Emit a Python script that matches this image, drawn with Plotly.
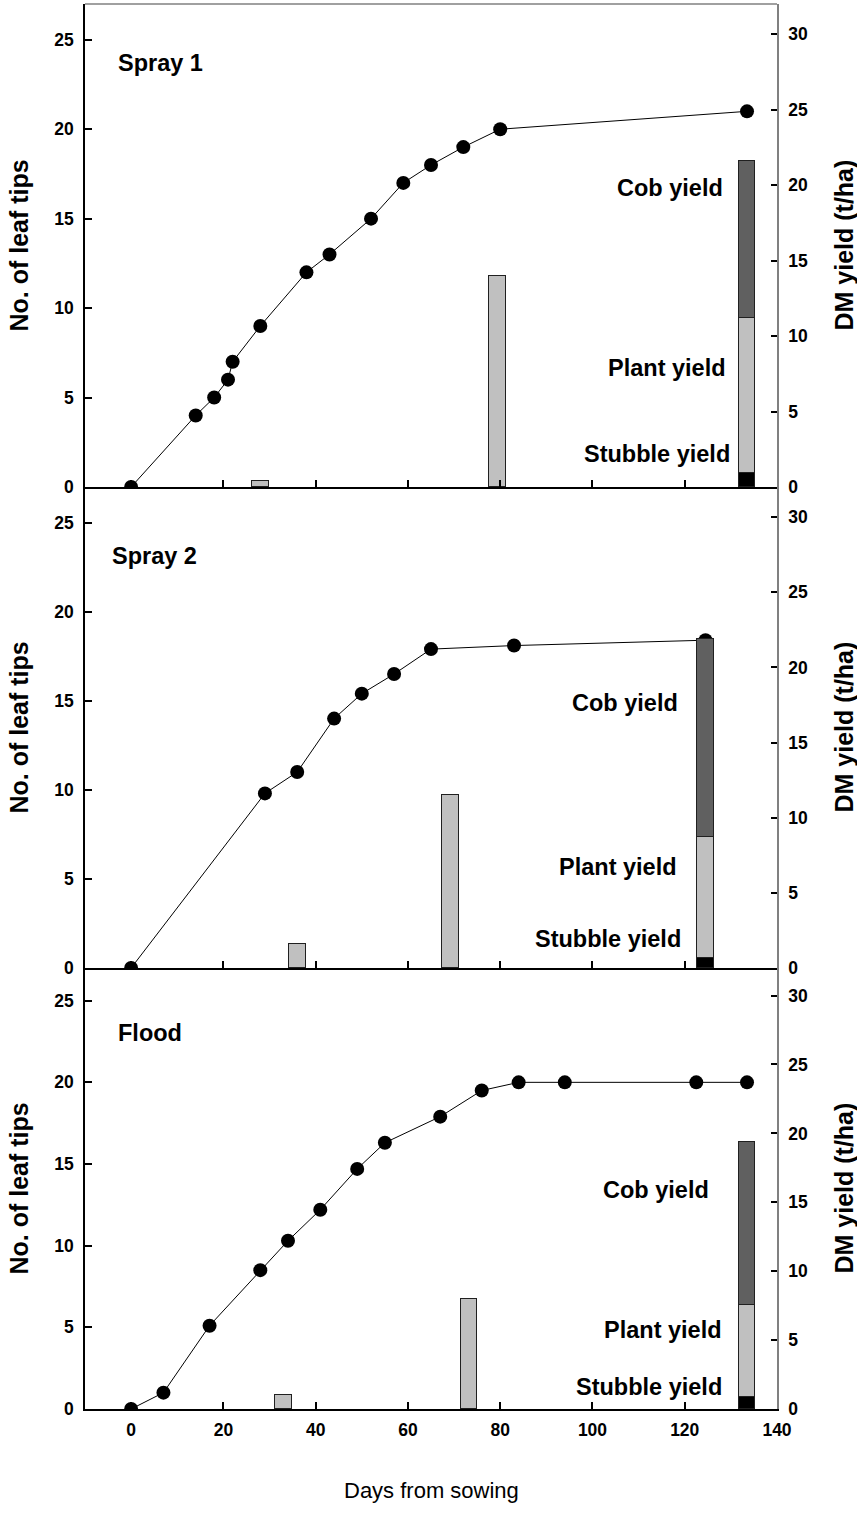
import plotly.graph_objects as go

# ---------------- data ----------------
panel_names = ["Spray 1", "Spray 2", "Flood"]

spray1_days = [0, 14, 18, 21, 22, 28, 38, 43, 52, 59, 65, 72, 80, 133.5]
spray1_tips = [0, 4, 5, 6, 7, 9, 12, 13, 15, 17, 18, 19, 20, 21]
spray1_bar_days = [28, 79.4]
spray1_bar_dm = [0.4, 14.0]
spray1_harvest_day = [133.5]
spray1_stubble = [0.95]
spray1_plant = [10.25]
spray1_cob = [10.4]

spray2_days = [0, 29, 36, 44, 50, 57, 65, 83, 124.5]
spray2_tips = [0, 9.8, 11, 14, 15.4, 16.5, 17.9, 18.1, 18.4]
spray2_bar_days = [36, 69.2]
spray2_bar_dm = [1.6, 11.5]
spray2_harvest_day = [124.5]
spray2_stubble = [0.67]
spray2_plant = [8.05]
spray2_cob = [13.2]

flood_days = [0, 7, 17, 28, 34, 41, 49, 55, 67, 76, 84, 94, 122.5, 133.5]
flood_tips = [0, 1, 5.1, 8.5, 10.3, 12.2, 14.7, 16.3, 17.9, 19.5, 20, 20, 20, 20]
flood_bar_days = [33, 73.2]
flood_bar_dm = [1.05, 7.95]
flood_harvest_day = [133.5]
flood_stubble = [0.89]
flood_plant = [6.65]
flood_cob = [11.83]

x_ticks = [0, 20, 40, 60, 80, 100, 120, 140]
left_ticks = [0, 5, 10, 15, 20, 25]
right_ticks = [0, 5, 10, 15, 20, 25, 30]

# ---------------- styling / layout ----------------
FONT = "Liberation Sans, Arial, sans-serif"
LIGHT = "#c0c0c0"
DARK = "#606060"
W, H = 857, 1532
ML, MR, MT, MB = 85, 80, 4, 123
plot_h = H - MT - MB
bounds_px = [(4, 487), (487, 968), (968, 1409)]
domains = [[(1409 - b) / plot_h, (1409 - t) / plot_h] for t, b in bounds_px]

TICK_SIZE = 17.5
LABEL_SIZE = 23.5
TITLE_SIZE = 25

panels = [
    dict(days=spray1_days, tips=spray1_tips, bd=spray1_bar_days, bv=spray1_bar_dm,
         hd=spray1_harvest_day, st=spray1_stubble, pl=spray1_plant, cb=spray1_cob,
         label_pos=(-3.2, 23.7),
         yl=[(128.8, 19.8), (129.3, 7.9), (130.2, 2.2)]),
    dict(days=spray2_days, tips=spray2_tips, bd=spray2_bar_days, bv=spray2_bar_dm,
         hd=spray2_harvest_day, st=spray2_stubble, pl=spray2_plant, cb=spray2_cob,
         label_pos=(-4.5, 23.1),
         yl=[(119.0, 17.6), (118.8, 6.7), (119.7, 1.95)]),
    dict(days=flood_days, tips=flood_tips, bd=flood_bar_days, bv=flood_bar_dm,
         hd=flood_harvest_day, st=flood_stubble, pl=flood_plant, cb=flood_cob,
         label_pos=(-3.2, 23.0),
         yl=[(125.8, 15.9), (128.6, 5.7), (128.6, 1.6)]),
]

fig = go.Figure()
annotations = []
bar_w = 3.6
bar_line = dict(color="#202020", width=1)
tickfont = dict(family=FONT, size=TICK_SIZE, color="black", weight="bold")

for i, p in enumerate(panels):
    xa = "x" if i == 0 else f"x{i+1}"
    yl = "y" if i == 0 else f"y{2*i+1}"
    yr = f"y{2*i+2}"
    fig.add_trace(go.Scatter(x=p["days"], y=p["tips"], mode="lines+markers",
                             line=dict(color="black", width=1),
                             marker=dict(color="black", size=14),
                             xaxis=xa, yaxis=yl, showlegend=False))
    fig.add_trace(go.Bar(x=p["bd"], y=p["bv"], width=bar_w, marker=dict(color=LIGHT, line=bar_line),
                         xaxis=xa, yaxis=yr, showlegend=False))
    fig.add_trace(go.Bar(x=p["hd"], y=p["st"], width=bar_w, marker=dict(color="black", line=bar_line),
                         xaxis=xa, yaxis=yr, showlegend=False))
    fig.add_trace(go.Bar(x=p["hd"], y=p["pl"], width=bar_w, marker=dict(color=LIGHT, line=bar_line),
                         xaxis=xa, yaxis=yr, showlegend=False))
    fig.add_trace(go.Bar(x=p["hd"], y=p["cb"], width=bar_w, marker=dict(color=DARK, line=bar_line),
                         xaxis=xa, yaxis=yr, showlegend=False))

    dom = domains[i]
    xkey = "xaxis" if i == 0 else f"xaxis{i+1}"
    ylkey = "yaxis" if i == 0 else f"yaxis{2*i+1}"
    yrkey = f"yaxis{2*i+2}"
    fig.layout[xkey] = dict(domain=[0, 1], anchor=yl, range=[-10, 140],
                            tickvals=x_ticks, ticks="inside", ticklen=7, tickwidth=1.5,
                            tickcolor="black", showline=True, linecolor="black", linewidth=1.5,
                            showgrid=False, zeroline=False, showticklabels=(i == 2),
                            ticklabelstandoff=4, tickfont=tickfont)
    fig.layout[ylkey] = dict(domain=dom, anchor=xa, range=[0, 27], tickvals=left_ticks,
                             ticks="inside", ticklen=7, tickwidth=1.5, tickcolor="black",
                             showline=True, linecolor="black", linewidth=1.5,
                             showgrid=False, zeroline=False, ticklabelstandoff=6,
                             tickfont=tickfont)
    fig.layout[yrkey] = dict(overlaying=yl, side="right", anchor=xa, range=[0, 32],
                             tickvals=right_ticks, ticks="inside", ticklen=6, tickwidth=1.5,
                             tickcolor="black", showline=True, linecolor="#808080", linewidth=1.5,
                             showgrid=False, zeroline=False, ticklabelstandoff=6,
                             tickfont=tickfont)

    annotations.append(dict(x=p["label_pos"][0], y=p["label_pos"][1], xref=xa, yref=yl,
                            text=panel_names[i], showarrow=False, xanchor="left", yanchor="middle",
                            font=dict(family=FONT, size=LABEL_SIZE, color="black", weight="bold")))
    for txt, (ax, ay) in zip(["Cob yield", "Plant yield", "Stubble yield"], p["yl"]):
        annotations.append(dict(x=ax, y=ay, xref=xa, yref=yr, text=txt, showarrow=False,
                                xanchor="right", yanchor="middle",
                                font=dict(family=FONT, size=LABEL_SIZE, color="black", weight="bold")))
    ymid = (dom[0] + dom[1]) / 2
    annotations.append(dict(x=0, y=ymid, xref="paper", yref="paper", text="No. of leaf tips",
                            textangle=-90, showarrow=False, xanchor="center", yanchor="middle",
                            xshift=18 - 85,
                            font=dict(family=FONT, size=TITLE_SIZE, color="black", weight="bold")))
    annotations.append(dict(x=1, y=ymid, xref="paper", yref="paper", text="DM yield (t/ha)",
                            textangle=-90, showarrow=False, xanchor="center", yanchor="middle",
                            xshift=843 - 777,
                            font=dict(family=FONT, size=TITLE_SIZE, color="black", weight="bold")))

annotations.append(dict(x=0.5, y=0, xref="paper", yref="paper", text="Days from sowing",
                        showarrow=False, xanchor="center", yanchor="middle", yshift=-(1490 - 1409),
                        font=dict(family=FONT, size=22, color="black")))

fig.update_layout(
    width=W, height=H, margin=dict(l=ML, r=MR, t=MT, b=MB),
    paper_bgcolor="white", plot_bgcolor="white",
    barmode="stack", bargap=0,
    annotations=annotations,
    shapes=[dict(type="line", xref="paper", yref="paper", x0=0, x1=1, y0=1, y1=1,
                 line=dict(color="#808080", width=1.5))],
)

fig.write_html("out.html")
